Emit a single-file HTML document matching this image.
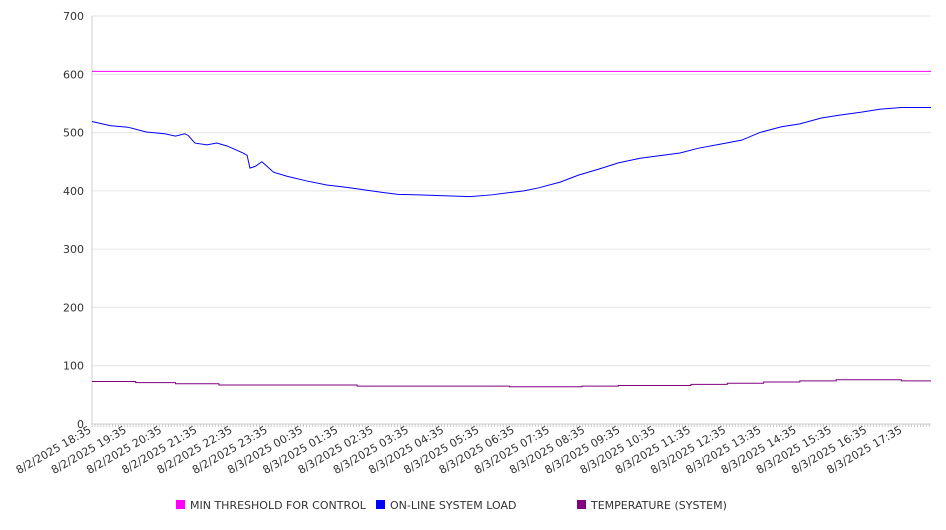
<!DOCTYPE html>
<html><head><meta charset="utf-8"><style>
body{margin:0;background:#fff;font-family:"DejaVu Sans","Liberation Sans",sans-serif;}
svg text{font-family:"DejaVu Sans","Liberation Sans",sans-serif;font-size:11px;fill:#333;}
</style></head><body>
<svg id="chart" width="946" height="526" xmlns="http://www.w3.org/2000/svg">
<g id="grid"></g>
<g id="yaxis"></g>
<g id="xaxis"></g>
<g id="series"></g>
<g id="legend"></g>
</svg>
<script>
const yTicks=[0,100,200,300,400,500,600,700];
const xLabels=["8/2/2025 18:35","8/2/2025 19:35","8/2/2025 20:35","8/2/2025 21:35","8/2/2025 22:35","8/2/2025 23:35","8/3/2025 00:35","8/3/2025 01:35","8/3/2025 02:35","8/3/2025 03:35","8/3/2025 04:35","8/3/2025 05:35","8/3/2025 06:35","8/3/2025 07:35","8/3/2025 08:35","8/3/2025 09:35","8/3/2025 10:35","8/3/2025 11:35","8/3/2025 12:35","8/3/2025 13:35","8/3/2025 14:35","8/3/2025 15:35","8/3/2025 16:35","8/3/2025 17:35"];
const thresholdValue=605;
const loadHours=[0,0.51,1.03,1.54,2.06,2.37,2.63,2.73,2.92,3.26,3.54,3.83,4.28,4.40,4.48,4.63,4.82,5.15,5.53,6.09,6.66,7.23,7.80,8.16,8.68,9.27,9.78,10.30,10.71,11.32,11.84,12.25,12.66,13.28,13.80,14.41,14.93,15.55,16.06,16.68,17.19,17.81,18.43,18.94,19.56,20.08,20.69,21.21,21.83,22.34,22.96,23.8];
const loadValues=[519,512,509,501,498,494,498,495,482,479,482,477,465,461,439,442,450,432,425,417,410,406,401,398,394,393,392,391,390,393,397,400,405,415,427,438,448,456,460,465,473,480,487,500,510,515,525,530,535,540,543,543];
const tempHours=[0,1.24,1.24,2.37,2.37,3.6,3.6,7.52,7.52,11.84,11.84,13.9,13.9,14.93,14.93,16.99,16.99,18.02,18.02,19.05,19.05,20.08,20.08,21.11,21.11,22.96,22.96,23.8];
const tempValues=[73,73,71,71,69,69,67,67,65,65,64,64,65,65,66,66,68,68,70,70,72,72,74,74,76,76,74,74];
const legendItems=["MIN THRESHOLD FOR CONTROL","ON-LINE SYSTEM LOAD","TEMPERATURE (SYSTEM)"];
const legendColors=["#ff00ff","#0000ff","#800080"];
const NS="http://www.w3.org/2000/svg";
const X0=92,X1=931,Y0=424,Y1=16,HMAX=23.8;
const xs=h=>X0+(X1-X0)*h/HMAX, ys=v=>Y0-(Y0-Y1)*v/700;
function mk(t,a,p){const e=document.createElementNS(NS,t);for(const k in a)e.setAttribute(k,a[k]);p.appendChild(e);return e;}
const grid=document.getElementById('grid'),ya=document.getElementById('yaxis'),xa=document.getElementById('xaxis'),se=document.getElementById('series'),lg=document.getElementById('legend');
yTicks.forEach(v=>{
 const l=mk('line',{x1:X0,x2:X1,y1:ys(v),y2:ys(v),stroke:'#e6e6e6'},grid);
 
 
 const t=mk('text',{x:X0-8,y:ys(v)+4,'text-anchor':'end'},ya);t.textContent=v;
 
 
});
mk('line',{x1:X0,x2:X0,y1:Y1,y2:Y0,stroke:'#ccc'},ya);
mk('line',{x1:X0,x2:X1,y1:Y0,y2:Y0,stroke:'#ccc'},xa);
for(let m=0;m<=HMAX*60;m+=5){mk('line',{x1:xs(m/60),x2:xs(m/60),y1:Y0,y2:Y0+3,stroke:'#ccc'},xa);}
xLabels.forEach((s,i)=>{
 const x=xs(i);
 const t=mk('text',{x:x,y:Y0+8,'text-anchor':'end',transform:`rotate(-30 ${x} ${Y0+8})`},xa);t.textContent=s;
 
 
});
const th=mk('line',{x1:X0,x2:X1,y1:ys(thresholdValue),y2:ys(thresholdValue),stroke:'#ff00ff','stroke-width':1},se);


const lp=mk('polyline',{points:loadHours.map((h,i)=>xs(h)+','+ys(loadValues[i])).join(' '),fill:'none',stroke:'#0000ff','stroke-width':1},se);


const tp=mk('polyline',{points:tempHours.map((h,i)=>xs(h)+','+ys(tempValues[i])).join(' '),fill:'none',stroke:'#800080','stroke-width':1},se);


const lx=[176,376,577];
legendItems.forEach((s,i)=>{
 const r=mk('rect',{x:lx[i],y:500,width:9,height:9,fill:legendColors[i]},lg);
 
 
 const t=mk('text',{x:lx[i]+14,y:509},lg);t.textContent=s;
 
 
});
</script>
</body></html>
